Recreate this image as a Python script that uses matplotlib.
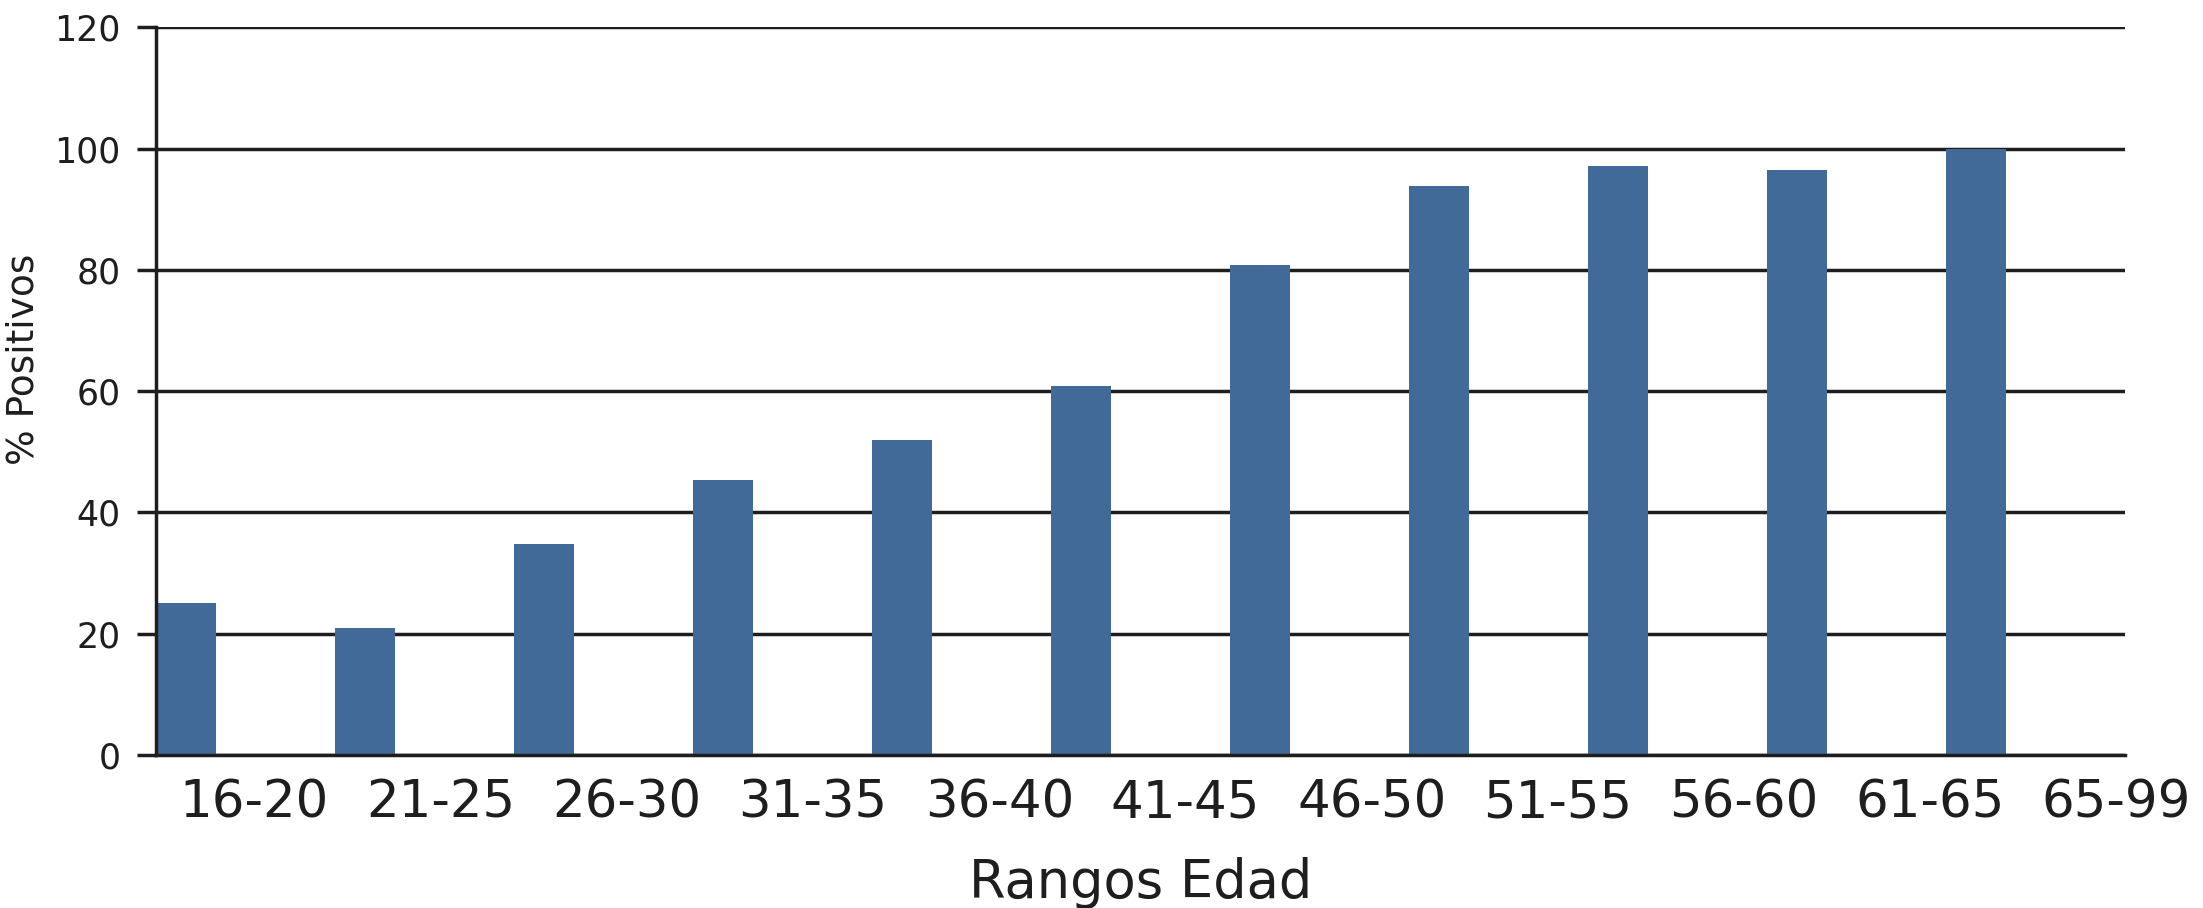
import numpy as np
import matplotlib
matplotlib.use("Agg")
import matplotlib.pyplot as plt

# age ranges and % positive
rangos = ["16-20", "21-25", "26-30", "31-35", "36-40", "41-45",
          "46-50", "51-55", "56-60", "61-65", "65-99"]
positivos = [25, 21, 34.8, 45.3, 52, 60.8, 80.8, 93.8, 97.1, 96.5, 100]
yticks = [0, 20, 40, 60, 80, 100, 120]

color_barra = "#416a99"
negro = "#1e1e1e"

fig = plt.figure(figsize=(22.03, 9.08), dpi=100)
ax = fig.add_axes([0.0708, 0.1685, 0.894, 0.8015])

x = np.arange(len(rangos))
ax.bar(x, positivos, width=0.335, align="edge", color=color_barra, zorder=3)

ax.set_xlim(0, len(rangos))
ax.set_ylim(0, 120)

ax.set_yticks(yticks)
ax.set_yticklabels([str(t) for t in yticks], fontsize=25, color=negro)
ax.yaxis.grid(True, color=negro, linewidth=2.5, zorder=1)
ax.set_axisbelow(True)
ax.tick_params(axis="y", length=13.5, width=2.5, color=negro, pad=12)

# labels sit a bit to the right of slot centres, as in the original
ax.set_xticks(0.55 + 1.04 * x)
ax.set_xticklabels(rangos, fontsize=37, color=negro)
ax.tick_params(axis="x", length=0, pad=17)

for s in ["top", "right"]:
    ax.spines[s].set_visible(False)
for s in ["left", "bottom"]:
    ax.spines[s].set_linewidth(2.5)
    ax.spines[s].set_color(negro)
    ax.spines[s].set_zorder(4)

ax.set_ylabel("% Positivos", fontsize=27, color=negro)
ax.yaxis.set_label_coords(-0.058, 0.544)
ax.set_xlabel("Rangos Edad", fontsize=38, color=negro)
ax.xaxis.set_label_coords(0.5, -0.14)

fig.savefig("out.png", dpi=100)
